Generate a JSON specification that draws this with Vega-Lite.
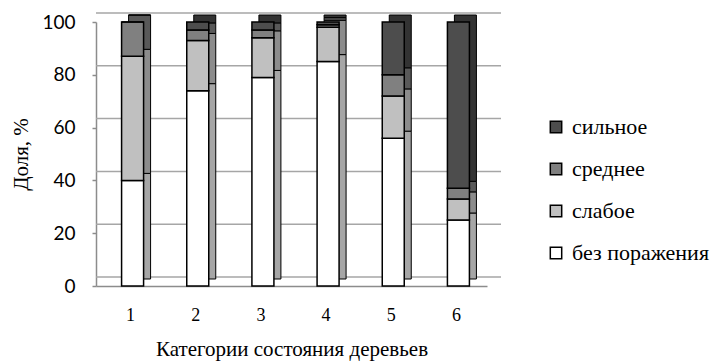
{
  "$schema": "https://vega.github.io/schema/vega-lite/v6.json",
  "width": 391,
  "height": 264,
  "autosize": "none",
  "padding": {"left": 96, "top": 22, "right": 240, "bottom": 77},
  "background": "white",
  "config": {
    "font": "Liberation Serif",
    "view": {"stroke": null},
    "legend": {"labelFont": "serif", "labelFontSize": 22, "labelColor": "#000"}
  },
  "datasets": {
    "main": [
      {"cat": "1", "type": "без поражения", "ord": 1, "value": 40},
      {"cat": "1", "type": "слабое", "ord": 2, "value": 47},
      {"cat": "1", "type": "среднее", "ord": 3, "value": 13},
      {"cat": "1", "type": "сильное", "ord": 4, "value": 0},
      {"cat": "2", "type": "без поражения", "ord": 1, "value": 74},
      {"cat": "2", "type": "слабое", "ord": 2, "value": 19},
      {"cat": "2", "type": "среднее", "ord": 3, "value": 4},
      {"cat": "2", "type": "сильное", "ord": 4, "value": 3},
      {"cat": "3", "type": "без поражения", "ord": 1, "value": 79},
      {"cat": "3", "type": "слабое", "ord": 2, "value": 15},
      {"cat": "3", "type": "среднее", "ord": 3, "value": 3},
      {"cat": "3", "type": "сильное", "ord": 4, "value": 3},
      {"cat": "4", "type": "без поражения", "ord": 1, "value": 85},
      {"cat": "4", "type": "слабое", "ord": 2, "value": 13},
      {"cat": "4", "type": "среднее", "ord": 3, "value": 1},
      {"cat": "4", "type": "сильное", "ord": 4, "value": 1},
      {"cat": "5", "type": "без поражения", "ord": 1, "value": 56},
      {"cat": "5", "type": "слабое", "ord": 2, "value": 16},
      {"cat": "5", "type": "среднее", "ord": 3, "value": 8},
      {"cat": "5", "type": "сильное", "ord": 4, "value": 20},
      {"cat": "6", "type": "без поражения", "ord": 1, "value": 25},
      {"cat": "6", "type": "слабое", "ord": 2, "value": 8},
      {"cat": "6", "type": "среднее", "ord": 3, "value": 4},
      {"cat": "6", "type": "сильное", "ord": 4, "value": 63}
    ],
    "grid": [{"g": 0}, {"g": 20}, {"g": 40}, {"g": 60}, {"g": 80}, {"g": 100}]
  },
  "layer": [
    {
      "data": {"name": "grid"},
      "mark": {"type": "rule", "color": "#a6a6a6", "strokeWidth": 1.5, "xOffset": 14, "x2Offset": 15, "yOffset": -9},
      "encoding": {
        "y": {"field": "g", "type": "quantitative", "scale": {"domain": [0, 100]}, "axis": null}
      }
    },
    {
      "data": {"name": "main"},
      "mark": {"type": "bar", "width": 22, "xOffset": 11, "yOffset": -7, "y2Offset": -7, "stroke": "#000", "strokeWidth": 1},
      "encoding": {
        "x": {"field": "cat", "type": "nominal", "axis": null},
        "y": {"field": "value", "type": "quantitative", "stack": "zero", "axis": null},
        "order": {"field": "ord", "type": "quantitative"},
        "color": {
          "field": "type", "type": "nominal", "legend": null,
          "scale": {"domain": ["сильное", "среднее", "слабое", "без поражения"], "range": ["#333333", "#595959", "#8c8c8c", "#a6a6a6"]}
        }
      }
    },
    {
      "data": {"name": "main"},
      "mark": {"type": "bar", "width": 22, "xOffset": 4, "stroke": "#000", "strokeWidth": 1.5},
      "encoding": {
        "x": {
          "field": "cat", "type": "nominal", "sort": null,
          "title": "Категории состояния деревьев",
          "axis": {
            "labelAngle": 0, "labelFont": "Liberation Serif", "labelFontSize": 18, "labelColor": "#000",
            "labelPadding": 20, "labelOffset": 2, "ticks": false, "domainColor": "#8c8c8c", "domainWidth": 1.5,
            "titleFont": "Liberation Serif", "titleFontSize": 21, "titleFontWeight": "normal", "titleColor": "#000", "titlePadding": 14
          }
        },
        "y": {
          "field": "value", "type": "quantitative", "stack": "zero",
          "scale": {"domain": [0, 100]},
          "title": "Доля, %",
          "axis": {
            "values": [0, 20, 40, 60, 80, 100], "grid": false,
            "labelFont": "Lato", "labelFontSize": 19, "labelColor": "#000", "labelPadding": 17,
            "tickSize": 4, "tickColor": "#8c8c8c", "tickWidth": 1.5, "domainColor": "#8c8c8c", "domainWidth": 1.5,
            "titleFont": "Liberation Serif", "titleFontSize": 21, "titleFontWeight": "normal", "titleColor": "#000", "titlePadding": 10
          }
        },
        "order": {"field": "ord", "type": "quantitative"},
        "color": {
          "field": "type", "type": "nominal",
          "scale": {"domain": ["сильное", "среднее", "слабое", "без поражения"], "range": ["#4d4d4d", "#808080", "#c0c0c0", "#ffffff"]},
          "legend": {
            "title": null, "orient": "none", "legendX": 449, "legendY": 94,
            "symbolType": "square", "symbolSize": 130, "symbolStrokeColor": "#000", "symbolStrokeWidth": 1.5,
            "labelFont": "serif", "labelFontSize": 22, "labelColor": "#000", "labelOffset": 5,
            "rowPadding": 20, "labelLimit": 300
          }
        }
      }
    }
  ],
  "resolve": {"scale": {"color": "independent"}, "axis": {"x": "independent", "y": "independent"}}
}
